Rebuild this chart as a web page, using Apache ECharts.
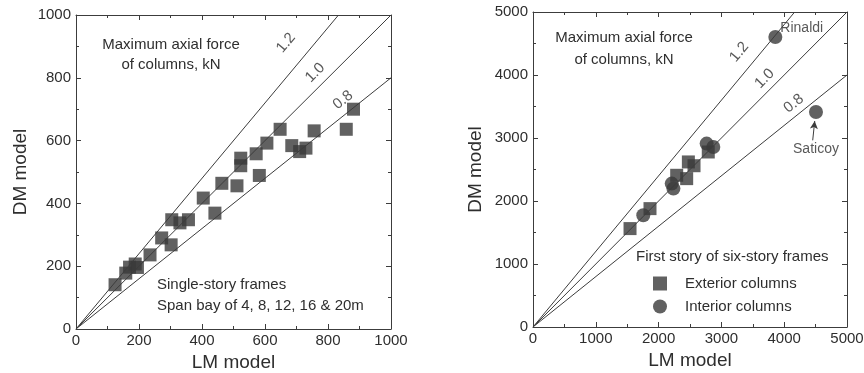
<!DOCTYPE html>
<html>
<head>
<meta charset="utf-8">
<script src="https://cdn.jsdelivr.net/npm/echarts@6.0.0/dist/echarts.min.js"></script>
<style>
  html, body { margin: 0; padding: 0; background: #fff; }
  #main { width: 864px; height: 373px; }
</style>
</head>
<body>
<div id="main"></div>
<script>
// single-story frames (left)
const leftLM = [124, 158, 170, 188, 195, 235, 272, 302, 304, 330, 357, 404, 441, 463, 511, 523, 523, 572, 582, 606, 648, 685, 710, 730, 756, 858, 881];
const leftDM = [141, 178, 197, 207, 196, 236, 290, 268, 348, 338, 348, 417, 369, 464, 456, 544, 520, 558, 489, 592, 636, 584, 565, 576, 631, 636, 700];

// six-story frames, first story (right)
const extLM = [1545, 1863, 2288, 2447, 2474, 2564, 2791];
const extDM = [1562, 1879, 2408, 2355, 2620, 2560, 2778];
const intLM = [1756, 2209, 2236, 2765, 2871, 3859, 4506];
const intDM = [1773, 2276, 2197, 2911, 2857, 4603, 3413];
const intNotes = ['', '', '', '', '', 'Rinaldi', 'Saticoy'];

// DM/LM ratio lines
const ratios = [1.2, 1.0, 0.8];
const ratioText = ['1.2', '1.0', '0.8'];

const leftMax = 1000, leftStep = 200;
const rightMax = 5000, rightStep = 1000;

const font = 'Liberation Sans, Arial, sans-serif';
const ink = '#3a3a3a';
const axisColor = '#3c3c3c';
const txt = '#2e2e2e';

const chart = echarts.init(document.getElementById('main'));

function axis(dir, grid, max, step, pos, withLabel, name, nameGap) {
  return {
    type: 'value', gridIndex: grid, position: pos, min: 0, max: max, interval: step,
    axisLine: { show: true, onZero: false, lineStyle: { color: axisColor, width: 1 } },
    axisTick: { show: true, inside: true, length: 5, lineStyle: { color: axisColor } },
    minorTick: { show: true, splitNumber: 2, length: 3, lineStyle: { color: axisColor } },
    splitLine: { show: false },
    minorSplitLine: { show: false },
    axisLabel: {
      show: withLabel, color: txt, fontSize: 15, fontFamily: font,
      margin: dir === 'x' ? 4 : 5, formatter: v => String(v)
    },
    name: withLabel ? name : '',
    nameLocation: 'middle',
    nameGap: nameGap,
    nameTextStyle: { fontSize: 19, color: txt, fontFamily: font }
  };
}

function zip(a, b) { return a.map((v, i) => [v, b[i]]); }

function ratioSeries(xi, yi, max) {
  return ratios.map(r => ({
    type: 'line', xAxisIndex: xi, yAxisIndex: yi, silent: true,
    symbol: 'none', lineStyle: { color: axisColor, width: 1 },
    data: [[0, 0], [Math.min(max, max / r), Math.min(max, max * r)]]
  }));
}

function ratioLabels(xi, yi, anchors) {
  return {
    type: 'scatter', xAxisIndex: xi, yAxisIndex: yi, silent: true, symbolSize: 0,
    data: anchors.map((p, i) => ({
      value: p,
      label: {
        show: true, position: 'inside', formatter: ratioText[i],
        rotate: Math.atan(ratios[i]) * 180 / Math.PI,
        color: txt, fontSize: 15, fontFamily: font
      }
    }))
  };
}

const option = {
  animation: false,
  backgroundColor: '#fff',
  grid: [
    { left: 76, top: 15, width: 315, height: 314, outerBoundsMode: 'none' },
    { left: 533, top: 12, width: 314, height: 315, outerBoundsMode: 'none' }
  ],
  xAxis: [
    axis('x', 0, leftMax, leftStep, 'bottom', true, 'LM model', 20),
    axis('x', 0, leftMax, leftStep, 'top', false, '', 0),
    axis('x', 1, rightMax, rightStep, 'bottom', true, 'LM model', 20),
    axis('x', 1, rightMax, rightStep, 'top', false, '', 0)
  ],
  yAxis: [
    axis('y', 0, leftMax, leftStep, 'left', true, 'DM model', 46),
    axis('y', 0, leftMax, leftStep, 'right', false, '', 0),
    axis('y', 1, rightMax, rightStep, 'left', true, 'DM model', 48),
    axis('y', 1, rightMax, rightStep, 'right', false, '', 0)
  ],
  legend: {
    left: 648, top: 271, orient: 'vertical', itemWidth: 14, itemHeight: 14, itemGap: 8,
    selectedMode: false,
    textStyle: { color: txt, fontSize: 15, fontFamily: font, padding: [0, 0, 0, 13] },
    data: [
      { name: 'Exterior columns', icon: 'rect' },
      { name: 'Interior columns', icon: 'circle' }
    ]
  },
  series: [
    ...ratioSeries(0, 0, leftMax),
    ...ratioSeries(2, 2, rightMax),
    ratioLabels(0, 0, [[667, 911], [759, 816], [848, 729]]),
    ratioLabels(2, 2, [[3285, 4365], [3689, 3943], [4151, 3546]]),
    {
      name: 'Single-story frames', type: 'scatter', xAxisIndex: 0, yAxisIndex: 0,
      symbol: 'rect', symbolSize: 13, itemStyle: { color: ink },
      data: zip(leftLM, leftDM)
    },
    {
      name: 'Exterior columns', type: 'scatter', xAxisIndex: 2, yAxisIndex: 2,
      symbol: 'rect', symbolSize: 13, itemStyle: { color: ink },
      data: zip(extLM, extDM)
    },
    {
      name: 'Interior columns', type: 'scatter', xAxisIndex: 2, yAxisIndex: 2,
      symbol: 'circle', symbolSize: 14, itemStyle: { color: ink },
      data: zip(intLM, intDM).map((p, i) => {
        if (intNotes[i] === 'Rinaldi') {
          return { value: p, label: { show: true, formatter: intNotes[i], position: [12, -9], align: 'left', verticalAlign: 'top', color: txt, fontSize: 14, fontFamily: font } };
        }
        if (intNotes[i] === 'Saticoy') {
          return { value: p, label: { show: true, formatter: intNotes[i], position: 'bottom', distance: 23, color: txt, fontSize: 14, fontFamily: font } };
        }
        return { value: p };
      }),
      markLine: {
        silent: true, symbol: ['none', 'arrow'], symbolSize: [6, 8],
        lineStyle: { color: axisColor, width: 1, type: 'solid' },
        label: { show: false },
        data: [[{ coord: [4454, 2963] }, { coord: [4486, 3270] }]]
      }
    }
  ],
  graphic: [
    { type: 'text', x: 171, y: 35, style: { text: 'Maximum axial force\nof columns, kN', align: 'center', verticalAlign: 'top', lineHeight: 20, fill: txt, font: '15px ' + font } },
    { type: 'text', x: 157, y: 274, style: { text: 'Single-story frames\nSpan bay of 4, 8, 12, 16 & 20m', align: 'left', verticalAlign: 'top', lineHeight: 21, fill: txt, font: '15px ' + font } },
    { type: 'text', x: 624, y: 27, style: { text: 'Maximum axial force\nof columns, kN', align: 'center', verticalAlign: 'top', lineHeight: 22, fill: txt, font: '15px ' + font } },
    { type: 'text', x: 636, y: 249, style: { text: 'First story of six-story frames', align: 'left', verticalAlign: 'top', fill: txt, font: '15px ' + font } }
  ]
};

chart.setOption(option);
</script>
</body>
</html>
